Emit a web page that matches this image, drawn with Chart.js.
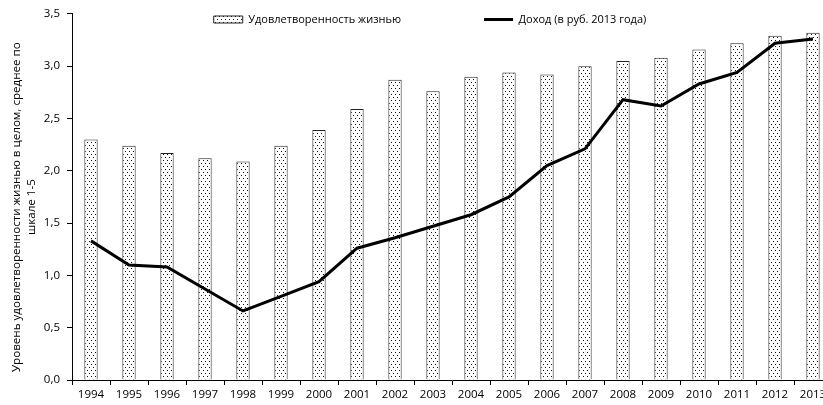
<!DOCTYPE html>
<html>
<head>
<meta charset="utf-8">
<script src="https://cdn.jsdelivr.net/npm/chart.js@4/dist/chart.umd.min.js"></script>
<style>
  html, body { margin: 0; padding: 0; background: #fff; overflow: hidden; }
  #wrap { position: relative; width: 840px; height: 405px; }
</style>
</head>
<body>
<div id="wrap"><canvas id="chart" width="840" height="405"></canvas></div>
<script>
const years = ['1994', '1995', '1996', '1997', '1998', '1999', '2000', '2001', '2002', '2003',
               '2004', '2005', '2006', '2007', '2008', '2009', '2010', '2011', '2012', '2013'];
const satisfaction = [2.30, 2.24, 2.17, 2.12, 2.09, 2.24, 2.39, 2.59, 2.87, 2.76,
                      2.90, 2.94, 2.92, 3.00, 3.05, 3.08, 3.16, 3.22, 3.29, 3.32];
const income = [1.33, 1.10, 1.08, 0.87, 0.66, 0.80, 0.94, 1.26, 1.36, 1.47,
                1.58, 1.75, 2.05, 2.21, 2.68, 2.62, 2.83, 2.94, 3.22, 3.26];
const yTickLabels = ['0,0', '0,5', '1,0', '1,5', '2,0', '2,5', '3,0', '3,5'];
const satisfactionLabel = 'Удовлетворенность жизнью';
const incomeLabel = 'Доход (в руб. 2013 года)';
const yTitle = ['Уровень удовлетворенности жизнью в целом, среднее по', 'шкале 1-5'];

// dotted fill like the excel pattern
function dotPattern() {
    const c = document.createElement('canvas');
    c.width = 4; c.height = 6;
    const g = c.getContext('2d');
    g.fillStyle = '#fff';
    g.fillRect(0, 0, 4, 6);
    g.fillStyle = '#111';
    g.fillRect(1, 1, 1, 1);
    g.fillRect(3, 4, 1, 1);
    return g.createPattern(c, 'repeat');
}
const pattern = dotPattern();

// legend sits inside the plot area, so it must not take layout room
const LEGEND_TOP = 8;
const floatingLegend = {
    id: 'floatingLegend',
    beforeLayout(chart) {
        const l = chart.legend;
        if (l && !l._floatPatched) {
            const fit = l.fit;
            l.fit = function () {
                fit.call(this);
                this._realHeight = this.height;
                this.height = 0;
            };
            l._floatPatched = true;
        }
    },
    afterLayout(chart) {
        const l = chart.legend;
        if (!l) return;
        l.top = LEGEND_TOP;
        l.bottom = LEGEND_TOP + (l._realHeight || 20);
        l.height = l.bottom - l.top;
    }
};

const FONT = "'Open Sans', sans-serif";
Chart.defaults.font.family = FONT;
Chart.defaults.font.size = 11;
Chart.defaults.color = '#000';

// trailing spaces push the rotated title a little down, like in the source
const titleShift = '\u2002\u2002\u2002 ';

new Chart(document.getElementById('chart'), {
    type: 'bar',
    data: {
        labels: years,
        datasets: [
            {
                type: 'bar',
                label: satisfactionLabel,
                data: satisfaction,
                backgroundColor: pattern,
                borderColor: '#222',
                borderWidth: 1,
                barPercentage: 0.35,
                categoryPercentage: 1.0,
                order: 1
            },
            {
                type: 'line',
                label: incomeLabel,
                data: income,
                borderColor: '#000',
                borderWidth: 3,
                pointRadius: 0,
                tension: 0,
                fill: false,
                order: 0
            }
        ]
    },
    plugins: [floatingLegend],
    options: {
        responsive: false,
        devicePixelRatio: 1,
        animation: false,
        layout: { padding: { top: 9, right: 8, bottom: 0, left: 0 } },
        plugins: {
            tooltip: { enabled: false },
            legend: {
                position: 'top',
                fullSize: false,
                align: 'center',
                labels: {
                    usePointStyle: true,
                    pointStyleWidth: 29,
                    boxHeight: 7,
                    padding: 6,
                    font: { size: 11 },
                    color: '#000',
                    generateLabels: (chart) => [
                        {
                            text: satisfactionLabel + '\u2003\u2003\u2003\u2003\u2003\u2003\u2003',
                            fillStyle: pattern,
                            strokeStyle: '#222',
                            lineWidth: 1,
                            pointStyle: 'rect',
                            datasetIndex: 0
                        },
                        {
                            text: incomeLabel + '\u2003\u2003\u2003\u2003',
                            fillStyle: '#000',
                            strokeStyle: '#000',
                            lineWidth: 3,
                            lineDash: [],
                            pointStyle: 'line',
                            datasetIndex: 1
                        }
                    ]
                }
            }
        },
        scales: {
            x: {
                grid: { display: true, drawOnChartArea: false, offset: true, color: '#000', tickLength: 5 },
                border: { display: true, color: '#000', width: 1 },
                ticks: { padding: 3, maxRotation: 0, autoSkip: false, font: { size: 11.5 } },
                afterFit: (s) => { s.height = 25; }
            },
            y: {
                min: 0,
                max: 3.5,
                grid: { display: true, drawOnChartArea: false, color: '#000', tickLength: 5 },
                border: { display: true, color: '#000', width: 1 },
                ticks: {
                    stepSize: 0.5,
                    padding: 7,
                    font: { size: 11.5 },
                    callback: (v, i) => yTickLabels[i]
                },
                title: {
                    display: true,
                    text: yTitle.map(t => t + titleShift),
                    font: { size: 11.6, lineHeight: 15 / 11.6 },
                    padding: { top: 9, bottom: 0 }
                },
                afterFit: (s) => { s.width = 72; }
            }
        }
    }
});
</script>
</body>
</html>
